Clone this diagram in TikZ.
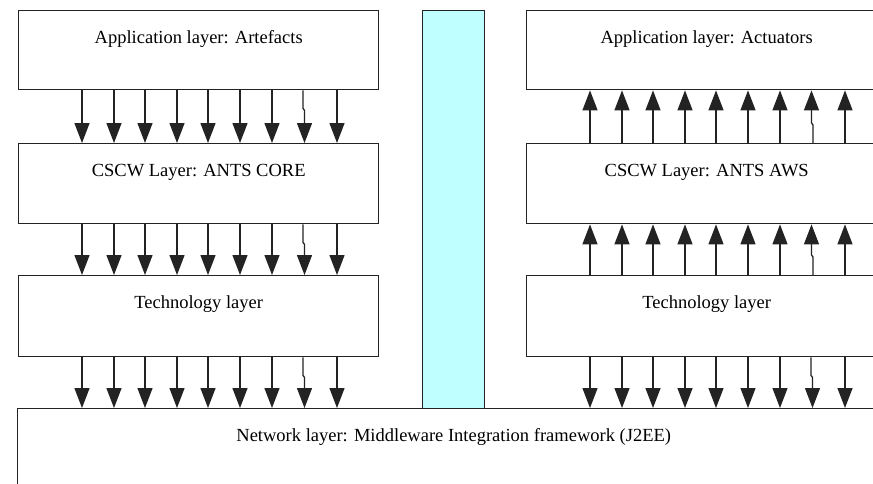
\documentclass[tikz,border=0pt]{standalone}
\usepackage{fontspec}
\setmainfont{Liberation Serif}
\usetikzlibrary{arrows.meta,calc}
\definecolor{barcyan}{RGB}{192,255,255}
\definecolor{edge}{RGB}{35,35,35}
\begin{document}
\begin{tikzpicture}[x=1pt,y=-1pt,
  layer/.style={draw=edge, line width=1.4pt, inner sep=0pt, anchor=north west,
    minimum width=360pt, text height=33pt,
    font=\fontsize{18.5}{22}\selectfont},
  flow/.style={draw=edge, line width=1.3pt, -{Triangle[width=15pt,length=20pt]}},
]
\useasboundingbox (0,0) rectangle (873,483);
\clip (0,0) rectangle (873,483);

% separating bar between the two stacks
\node[draw=edge, fill=barcyan, line width=1.4pt, inner sep=0pt, anchor=north west,
      minimum width=62pt, minimum height=398pt] (bar) at (422,10) {};

% left stack
\node[layer, text depth=46pt] (appL)  at (18,10)  {Application layer: Artefacts};
\node[layer, text depth=47pt] (cscwL) at (18,143) {CSCW Layer: ANTS CORE};
\node[layer, text depth=48pt] (techL) at (18,275) {Technology layer};

% right stack
\node[layer, text depth=46pt] (appR)  at (526,10)  {Application layer: Actuators};
\node[layer, text depth=47pt] (cscwR) at (526,143) {CSCW Layer: ANTS AWS};
\node[layer, text depth=48pt] (techR) at (526,275) {Technology layer};

% common network layer
\node[layer, minimum width=872pt, text depth=110pt] (net) at (17,408)
  {Network layer: Middleware Integration framework (J2EE)};

% downward flows
\foreach \S/\T in {appL/cscwL, cscwL/techL, techL/net, techR/net}{
  \foreach \d in {64,96,127,159,190,222,254,319}
    \draw[flow] let \p1=(\S.south west), \p2=(\T.north) in
      (\x1+\d,\y1) -- (\x1+\d,\y2);
  \draw[flow] let \p1=(\S.south west), \p2=(\T.north) in
    (\x1+285,\y1) -- (\x1+285,\y1-18) -- (\x1+286.5,\y1-20) -- (\x1+286.5,\y2);
}

% upward flows
\foreach \S/\T in {cscwR/appR, techR/cscwR}{
  \foreach \d in {64,96,127,159,190,222,254,319}
    \draw[flow] let \p1=(\S.north west), \p2=(\T.south) in
      (\x1+\d,\y1) -- (\x1+\d,\y2);
  \draw[flow] let \p1=(\S.north west), \p2=(\T.south) in
    (\x1+287,\y1) -- (\x1+287,\y1+18) -- (\x1+285.5,\y1+20) -- (\x1+285.5,\y2);
}
\end{tikzpicture}
\end{document}
